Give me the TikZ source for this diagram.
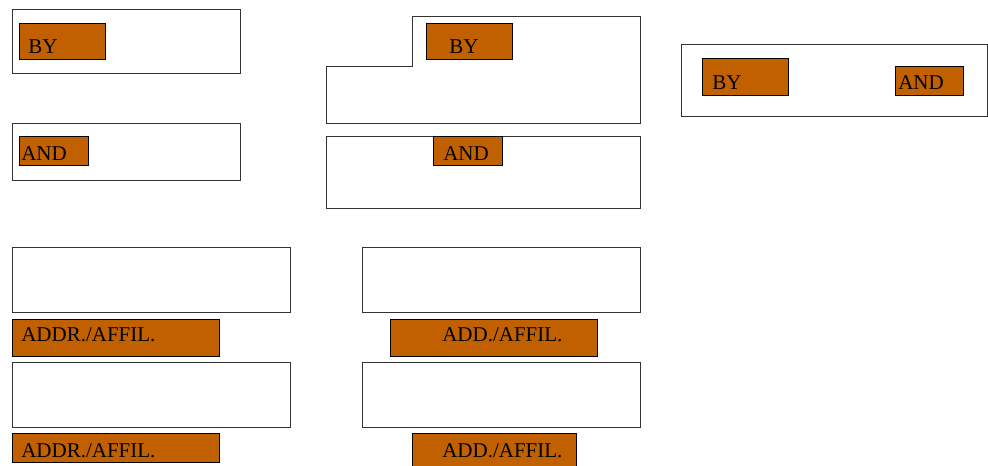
\documentclass[tikz,border=0pt]{standalone}
\usepackage{fontspec}
\setmainfont{Liberation Serif}
\definecolor{tagfill}{RGB}{192,96,0}
\begin{document}
\begin{tikzpicture}[x=0.75pt,y=-0.75pt,
  frame/.style={draw=black!80,line width=0.75pt,fill=white},
  tag/.style={draw=black,line width=0.75pt,fill=tagfill},
  tagtext/.style={anchor=base west,inner sep=0pt,font=\fontsize{15.75pt}{18pt}\selectfont,text=black}]
\useasboundingbox (0,0) rectangle (988,466);

% left column: single-line fields
\draw[frame] (12,10) rectangle (240,74);
\draw[tag] (19,24) rectangle (105,60);
\node[tagtext] (byA) at (28,54) {BY};

\draw[frame] (12,124) rectangle (240,181);
\draw[tag] (19,137) rectangle (88,166);
\node[tagtext] (andA) at (21,161) {AND};

% middle column: stepped frame and box
\draw[frame] (326,67) -- (412,67) -- (412,17) -- (640,17) -- (640,124) -- (326,124) -- cycle;
\draw[tag] (426,24) rectangle (512,60);
\node[tagtext] (byB) at (449,54) {BY};

\draw[frame] (326,137) rectangle (640,209);
\draw[tag] (433,137) rectangle (502,166);
\node[tagtext] (andB) at (443,161) {AND};

% right column: combined line
\draw[frame] (681,45) rectangle (987,117);
\draw[tag] (702,59) rectangle (788,96);
\node[tagtext] (byC) at (712,90) {BY};
\draw[tag] (895,67) rectangle (963,96);
\node[tagtext] (andC) at (898,90) {AND};

% address / affiliation blocks, left
\draw[frame] (12,248) rectangle (290,313);
\draw[tag] (12,320) rectangle (219,356);
\node[tagtext] (addrA) at (21,342) {ADDR./AFFIL.};
\draw[frame] (12,362) rectangle (290,427);
\draw[tag] (12,433) rectangle (219,462);
\node[tagtext] (addrB) at (21,457) {ADDR./AFFIL.};

% address / affiliation blocks, right
\draw[frame] (362,248) rectangle (640,313);
\draw[tag] (390,320) rectangle (597,356);
\node[tagtext] (addC) at (442,342) {ADD./AFFIL.};
\draw[frame] (362,362) rectangle (640,427);
\draw[tag] (412,433) rectangle (576,470);
\node[tagtext] (addD) at (442,457) {ADD./AFFIL.};
\end{tikzpicture}
\end{document}
